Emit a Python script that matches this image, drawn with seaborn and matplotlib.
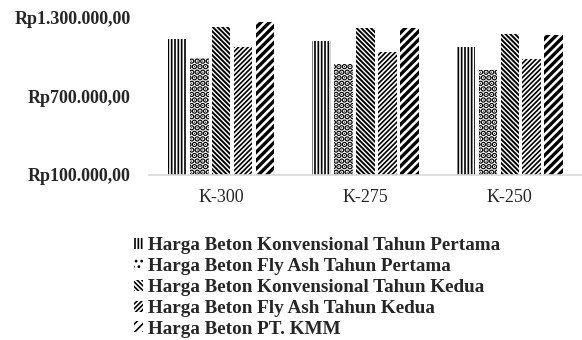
import matplotlib
matplotlib.use("Agg")
import matplotlib.pyplot as plt
from matplotlib.patches import Patch
import seaborn as sns
import pandas as pd

categories = ["K-300", "K-275", "K-250"]
series = [
    "Harga Beton Konvensional Tahun Pertama",
    "Harga Beton Fly Ash Tahun Pertama",
    "Harga Beton Konvensional Tahun Kedua",
    "Harga Beton Fly Ash Tahun Kedua",
    "Harga Beton PT. KMM",
]
konv_1 = [1139000, 1124000, 1078000]
flyash_1 = [994000, 948000, 902000]
konv_2 = [1231000, 1224000, 1178000]
flyash_2 = [1078000, 1040000, 989000]
kmm = [1269000, 1220000, 1170000]
y_ticks = [100000, 700000, 1300000]
y_tick_labels = ["Rp100.000,00", "Rp700.000,00", "Rp1.300.000,00"]

values = [konv_1, flyash_1, konv_2, flyash_2, kmm]
rows = []
for name, vals in zip(series, values):
    for cat, v in zip(categories, vals):
        rows.append({"Mutu": cat, "Seri": name, "Harga": v})
df = pd.DataFrame(rows)

sns.set_style("white")
plt.rcParams["font.family"] = ["Liberation Serif", "DejaVu Serif"]
plt.rcParams["hatch.linewidth"] = 1.2

hatches = ["|||||", "...", "\\" * 7, "/" * 7, "////"]
hatch_lw = [1.2, 3.0, 1.4, 1.2, 2.4]

fig = plt.figure(figsize=(5.82, 3.40), dpi=100)
ax = fig.add_axes([149 / 582, 1 - 175 / 340, 1 - 149 / 582, (175 - 18) / 340])

sns.barplot(data=df, x="Mutu", y="Harga", hue="Seri", order=categories,
            hue_order=series, width=0.76, gap=0.15, palette=["white"] * 5,
            edgecolor="black", linewidth=0, legend=False, ax=ax)

for cont, h, lw in zip(ax.containers, hatches, hatch_lw):
    for bar in cont.patches:
        bar.set_hatch(h)
        bar.set_edgecolor("black")
        bar.set_linewidth(0)
        if hasattr(bar, "set_hatch_linewidth"):
            bar.set_hatch_linewidth(lw)

ax.set_ylim(100000, 1300000)
ax.set_yticks(y_ticks)
ax.set_yticklabels(y_tick_labels, fontsize=13, fontweight="bold")
ax.tick_params(axis="y", length=0, pad=13)
ax.tick_params(axis="x", length=0, pad=10, labelsize=13)
ax.set_xlabel("")
ax.set_ylabel("")
for s in ["top", "right", "left"]:
    ax.spines[s].set_visible(False)
ax.spines["bottom"].set_color("#d9d9d9")
ax.spines["bottom"].set_linewidth(1.2)

handles = []
for name, h, lw in zip(series, hatches, hatch_lw):
    p = Patch(facecolor="white", edgecolor="black", linewidth=0, hatch=h, label=name)
    if hasattr(p, "set_hatch_linewidth"):
        p.set_hatch_linewidth(lw)
    handles.append(p)

fig.legend(handles=handles, loc="upper left", bbox_to_anchor=(121 / 582, 1 - 224 / 340),
           frameon=False, prop={"family": ["Liberation Serif"], "weight": "bold", "size": 13.8},
           handlelength=0.45, handleheight=0.5, handletextpad=0.25, labelspacing=0.2,
           borderpad=0.2)

fig.savefig("out.png", dpi=100)
